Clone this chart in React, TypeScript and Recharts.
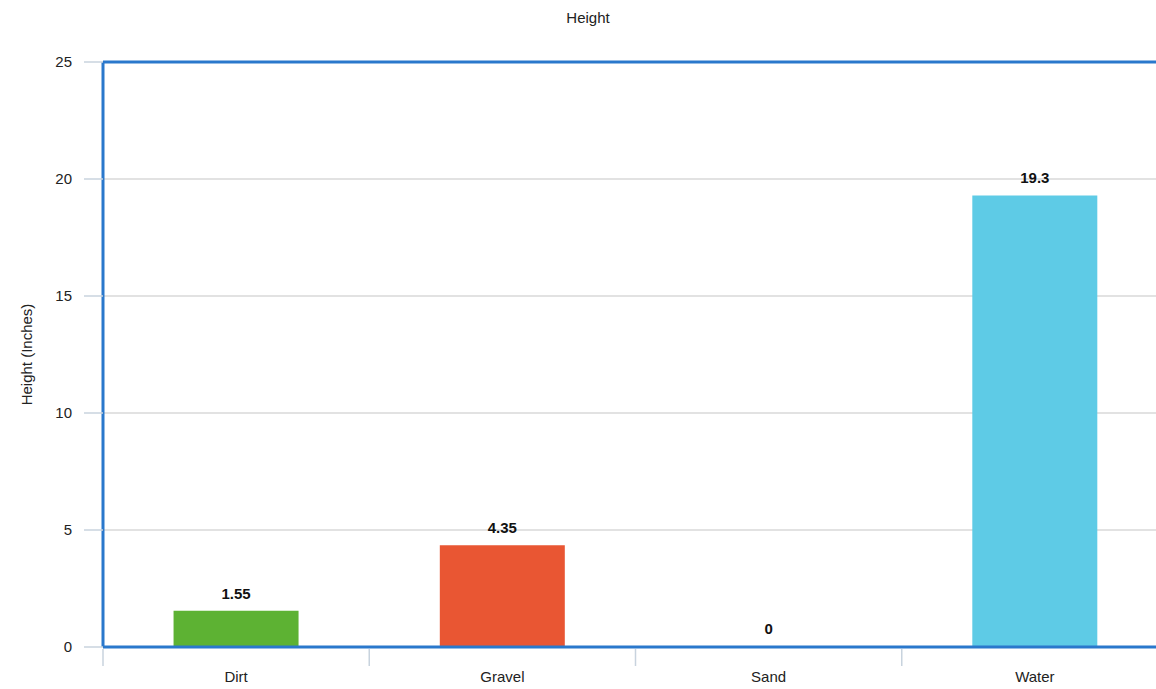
import { BarChart, Bar, XAxis, YAxis, CartesianGrid, Cell, LabelList, ReferenceLine } from "recharts";

const categories = ["Dirt", "Gravel", "Sand", "Water"];
const heights = [1.55, 4.35, 0, 19.3];
const yTicks = [0, 5, 10, 15, 20, 25];
const COLORS = ["#5db233", "#e95633", "transparent", "#5ecbe6"];

const data = categories.map((name, i) => ({ name, value: heights[i] }));

const AXIS_BLUE = "#2a78cc";
const GRID = "#c6c6c6";
const FONT = "'Liberation Sans', Arial, sans-serif";

function CategoryTick(props: any) {
    const { x, y, payload } = props;
    const off = payload?.offset ?? 0;
    return (
        <g>
            <line x1={x - off} x2={x - off} y1={y + 2} y2={y + 19} stroke="#c8d3de" strokeWidth={1.5} />
            <text x={x} y={y + 35} textAnchor="middle" fill="#222" fontSize={15} fontFamily={FONT}>
                {payload.value}
            </text>
        </g>
    );
}

// drawn by hand so the zero bar still gets its "0"
function ValueLabel(props: any) {
    const { x, y, width, value } = props;
    return (
        <text x={x + width / 2} y={y - 12} textAnchor="middle" fill="#111" fontSize={15}
            fontWeight="bold" fontFamily={FONT}>
            {value}
        </text>
    );
}

export default function App() {
    return (
        <div style={{ position: "fixed", left: 0, top: 0, width: 1156, height: 689, overflow: "hidden", background: "#fff" }}>
            <div style={{ position: "absolute", left: 0, top: 9, width: 1176, textAlign: "center", fontFamily: FONT, fontSize: 15, color: "#222" }}>
                Height
            </div>
            <BarChart width={1180} height={689} data={data} margin={{ top: 62, right: 12, bottom: 0, left: 0 }}
                barCategoryGap="26.5%">
                <CartesianGrid vertical={false} stroke={GRID} strokeWidth={1.2} />
                <XAxis dataKey="name" height={42} tickSize={0} tickMargin={0} tickLine={false}
                    axisLine={{ stroke: AXIS_BLUE, strokeWidth: 3 }} tick={<CategoryTick />} />
                <YAxis width={103} domain={[0, 25]} ticks={yTicks} interval={0} tickSize={19} tickMargin={12}
                    tickLine={{ stroke: "#c8d3de", strokeWidth: 1.5 }} axisLine={{ stroke: AXIS_BLUE, strokeWidth: 3 }}
                    tick={{ fill: "#222", fontSize: 15, fontFamily: FONT }}
                    label={{ value: "Height (Inches)", angle: -90, position: "insideLeft", offset: 27,
                        style: { textAnchor: "middle", fill: "#222", fontSize: 15, fontFamily: FONT } }} />
                <ReferenceLine y={25} stroke={AXIS_BLUE} strokeWidth={3} />
                <Bar dataKey="value" isAnimationActive={false} minPointSize={1}>
                    {data.map((_, i) => (
                        <Cell key={`cell-${i}`} fill={COLORS[i % COLORS.length]} />
                    ))}
                    <LabelList dataKey="value" content={<ValueLabel />} />
                </Bar>
            </BarChart>
        </div>
    );
}
